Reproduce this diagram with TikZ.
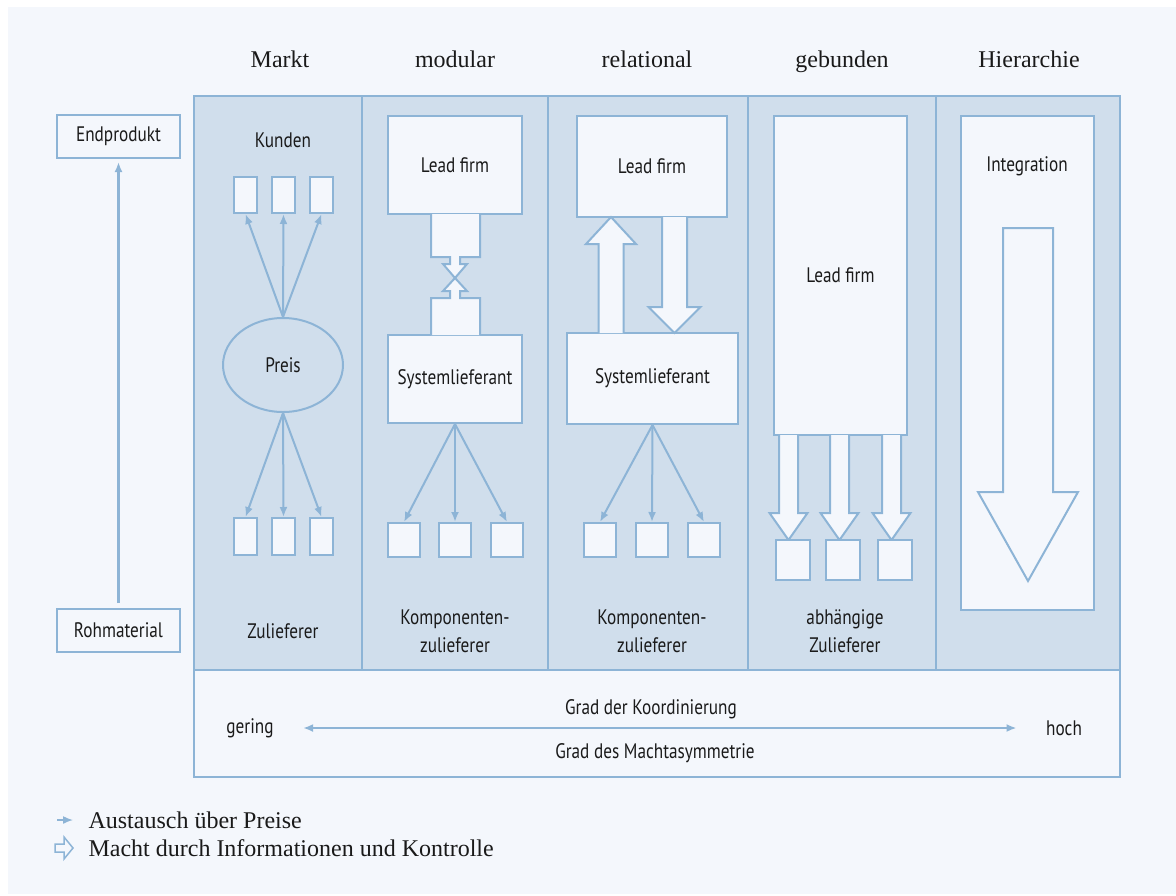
\documentclass[tikz,border=0pt]{standalone}
\usepackage{fontspec}
\setmainfont{Liberation Serif}
\newfontfamily\labelfont[FakeStretch=0.82]{PT Sans}
\usetikzlibrary{arrows.meta,shapes.geometric}
\definecolor{bgblue}{HTML}{F4F7FC}
\definecolor{colblue}{HTML}{D0DEEC}
\definecolor{lineblue}{HTML}{8DB4D6}
\definecolor{ink}{HTML}{1A1A1A}
\tikzset{
  box/.style={rectangle,draw=lineblue,fill=bgblue,line width=2pt,inner sep=0pt},
  lbl/.style={font=\labelfont\fontsize{21}{28}\selectfont,text=ink,align=center},
  head/.style={font=\fontsize{24}{28}\selectfont,text=ink},
  price/.style={draw=lineblue,line width=2pt,-{Latex[length=10pt,width=8pt]}},
  power/.style={draw=lineblue,fill=bgblue,line width=2pt,line join=miter},
}
% x, start, head base, tip, half shaft, half head
\newcommand{\fatarrow}[6]{%
  \filldraw[power] ({#1-#5},#2) -- ({#1-#5},#3) -- ({#1-#6},#3) -- (#1,#4) -- ({#1+#6},#3) -- ({#1+#5},#3) -- ({#1+#5},#2);}
\begin{document}
\begin{tikzpicture}[x=1pt,y=-1pt]
    \useasboundingbox (0,0) rectangle (1176,895);
    \fill[white] (0,0) rectangle (1176,895);
    \fill[bgblue] (8,7) rectangle (1176,894);

    \filldraw[draw=lineblue,fill=colblue,line width=2pt] (194,96) rectangle (1120,670);
    \foreach \x in {362,548,748,936} {
        \draw[lineblue,line width=2pt] (\x,96) -- (\x,670);
    }
    \filldraw[draw=lineblue,fill=bgblue,line width=2pt] (194,670) rectangle (1120,777);

    \foreach \x/\t in {280/Markt,455/modular,647/relational,842/gebunden,1029/Hierarchie} {
        \node[head,anchor=base] (h-\t) at (\x,67) {\t};
    }

    \node[box,lbl,minimum width=123pt,minimum height=43pt] (endp) at (118.5,136.5) {Endprodukt};
    \node[box,lbl,minimum width=123pt,minimum height=43pt] (rohm) at (118.5,630.5) {Rohmaterial};
    \draw[price,line width=3pt,shorten <=5pt,shorten >=3pt] (rohm) -- (endp);

    \node[lbl] (kunden) at (283,140) {Kunden};
    \node[ellipse,draw=lineblue,fill=colblue,line width=2pt,inner sep=0pt,minimum width=120pt,minimum height=94pt,lbl] (preis) at (283,365) {Preis};
    \foreach \i/\x in {1/245.5,2/283.5,3/321.5} {
        \node[box,minimum width=23pt,minimum height=36pt] (k\i) at (\x,195) {};
        \node[box,minimum width=23pt,minimum height=37pt] (z\i) at (\x,536.5) {};
        \draw[price] (preis.north) -- (k\i.south);
        \draw[price] (preis.south) -- (z\i.north);
    }
    \node[lbl] (zul) at (283,631) {Zulieferer};

    \node[box,lbl,minimum width=134pt,minimum height=98pt] (lf2) at (455,165) {Lead firm};
    \node[box,lbl,minimum width=134pt,minimum height=88pt] (sys2) at (455,379) {Systemlieferant};
    \filldraw[power] (431,214) -- (431,257) -- (450,257) -- (450,264) -- (443,264) -- (455,278) -- (467,264) -- (460,264) -- (460,257) -- (480,257) -- (480,214);
    \filldraw[power] (431,335) -- (431,298) -- (450,298) -- (450,291) -- (443,291) -- (455,278) -- (467,291) -- (460,291) -- (460,298) -- (480,298) -- (480,335);
    \foreach \i/\x in {1/404,2/455,3/507} {
        \node[box,minimum width=32pt,minimum height=34pt] (kz2\i) at (\x,540) {};
        \draw[price] (sys2.south) -- (kz2\i.north);
    }
    \node[lbl] (komp2) at (455,631) {Komponenten-\\zulieferer};

    \node[box,lbl,minimum width=150pt,minimum height=101pt] (lf3) at (652,166.5) {Lead firm};
    \node[box,lbl,minimum width=171pt,minimum height=91pt] (sys3) at (652.5,378.5) {Systemlieferant};
    \fatarrow{611}{333}{244}{217}{12.5}{25}
    \fatarrow{674.5}{217}{307}{333}{12.5}{26}
    \foreach \i/\x in {1/600,2/652,3/704} {
        \node[box,minimum width=32pt,minimum height=34pt] (kz3\i) at (\x,540) {};
        \draw[price] (sys3.south) -- (kz3\i.north);
    }
    \node[lbl] (komp3) at (652,631) {Komponenten-\\zulieferer};

    \node[box,lbl,minimum width=133pt,minimum height=319pt] (lf4) at (840.5,275.5) {Lead firm};
    \foreach \i/\x/\b in {1/788.5/793,2/839.5/843,3/891.5/895} {
        \fatarrow{\x}{435}{513}{540}{9.5}{19}
        \node[box,minimum width=34pt,minimum height=40pt] (ab\i) at (\b,560) {};
    }
    \node[lbl] (abh) at (845,631) {abhängige\\Zulieferer};

    \node[box,minimum width=133pt,minimum height=494pt] (integ) at (1027.5,363) {};
    \node[lbl] (integt) at (1027,166) {Integration};
    \filldraw[power] (1003,228) -- (1003,492) -- (978,492) -- (1028,581) -- (1078,492) -- (1053,492) -- (1053,228) -- cycle;

    \node[lbl] (koord) at (651,709) {Grad der Koordinierung};
    \node[lbl] (gering) at (250,728) {gering};
    \node[lbl] (hoch) at (1064,728) {hoch};
    \node[lbl] (macht) at (655,753) {Grad des Machtasymmetrie};
    \draw[draw=lineblue,line width=2pt,{Latex[length=10pt,width=8pt]}-{Latex[length=10pt,width=8pt]},shorten <=26pt,shorten >=26pt] (gering.east) -- (hoch.west);

    \coordinate (leg1) at (57,820);
    \coordinate (leg1e) at (73,820);
    \draw[price,line width=1.5pt] (leg1) -- (leg1e);
    \node[head,anchor=west] (legp) at (85,820) {Austausch über Preise};
    \filldraw[power,line width=1.5pt] (55,844) -- (64,844) -- (64,837) -- (73,848) -- (64,859) -- (64,852) -- (55,852) -- cycle;
    \node[head,anchor=west] (legm) at (85,848) {Macht durch Informationen und Kontrolle};
\end{tikzpicture}
\end{document}
